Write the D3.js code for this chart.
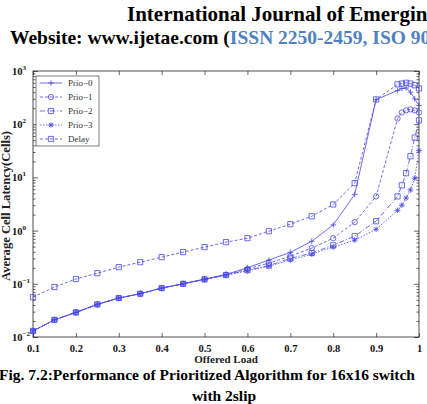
<!DOCTYPE html>
<html>
<head>
<meta charset="utf-8">
<script src="https://cdn.jsdelivr.net/npm/d3@7"></script>
<style>
  body { margin: 0; background: #fff; }
  text { font-family: "Liberation Serif", "Times New Roman", serif; }
</style>
</head>
<body>
<script>
// offered load vs average cell latency, log scale
let loads = [0.1, 0.15, 0.2, 0.25, 0.3, 0.35, 0.4, 0.45, 0.5, 0.55, 0.6, 0.65, 0.7, 0.75, 0.8, 0.85, 0.9, 0.95, 0.96, 0.97, 0.98, 0.99, 1.0]
let prio0 = [0.013, 0.021, 0.029, 0.041, 0.054, 0.065, 0.083, 0.10, 0.123, 0.15, 0.20, 0.28, 0.39, 0.63, 1.28, 4.8, 290, 430, 470, 480, 400, 300, 225]
let prio1 = [0.013, 0.021, 0.029, 0.041, 0.054, 0.065, 0.083, 0.10, 0.122, 0.148, 0.19, 0.245, 0.33, 0.47, 0.72, 1.44, 4.4, 128, 166, 182, 190, 182, 166]
let prio2 = [0.013, 0.021, 0.029, 0.041, 0.054, 0.065, 0.083, 0.10, 0.121, 0.146, 0.18, 0.22, 0.30, 0.38, 0.53, 0.79, 1.5, 4.4, 7.1, 12, 25, 56, 118]
let prio3 = [0.013, 0.021, 0.029, 0.041, 0.054, 0.065, 0.083, 0.10, 0.12, 0.145, 0.175, 0.215, 0.28, 0.36, 0.49, 0.66, 1.06, 2.4, 3.0, 4.1, 5.8, 9.6, 32]
let delay = [0.056, 0.087, 0.123, 0.158, 0.206, 0.255, 0.317, 0.394, 0.489, 0.606, 0.72, 0.975, 1.32, 1.86, 3.1, 7.8, 292, 560, 580, 600, 580, 540, 470]
let seriesNames = ['Prio−0', 'Prio−1', 'Prio−2', 'Prio−3', 'Delay']
let xTicks = [0.1, 0.2, 0.3, 0.4, 0.5, 0.6, 0.7, 0.8, 0.9, 1]
let yExps = [-2, -1, 0, 1, 2, 3]

let W = 427, H = 404
let pLeft = 33, pRight = 419, pTop = 71, pBottom = 337
let blue = '#4646e6'

let svg = d3.select('body').append('svg')
  .attr('width', W).attr('height', H)

// header (runs off the right edge like the scan)
let head = svg.append('g').attr('font-weight', 'bold')
head.append('text')
  .attr('x', 127).attr('y', 21)
  .attr('font-size', 21)
  .text('International Journal of Emerging')
let site = head.append('text')
  .attr('x', 10).attr('y', 44)
  .attr('font-size', 19.5)
site.append('tspan').text('Website: www.ijetae.com (')
site.append('tspan').attr('fill', '#4f81c4').text('ISSN 2250-2459, ISO 9001')

let x = d3.scaleLinear().domain([0.1, 1]).range([pLeft, pRight])
let y = d3.scaleLog().domain([0.01, 1000]).range([pBottom, pTop])

// frame
svg.append('rect')
  .attr('x', pLeft).attr('y', pTop)
  .attr('width', pRight - pLeft).attr('height', pBottom - pTop)
  .attr('fill', 'none').attr('stroke', '#222').attr('stroke-width', 0.8)

// x ticks bottom + top
let xAxisB = d3.axisBottom(x).tickValues(xTicks).tickSize(-4).tickPadding(8)
  .tickFormat(d => d === 1 ? '1' : d3.format('.1f')(d))
let gxb = svg.append('g').attr('transform', 'translate(0,' + pBottom + ')').call(xAxisB)
gxb.selectAll('text').attr('font-size', 10.5).attr('font-weight', 'bold').attr('fill', '#111')
  .attr('font-family', '"Liberation Serif", serif')
svg.append('g').attr('transform', 'translate(0,' + pTop + ')')
  .call(d3.axisTop(x).tickValues(xTicks).tickSize(-4).tickFormat(''))

// y ticks, major and minor, both sides
let minor = y.ticks().filter(v => Math.abs(Math.log10(v) - Math.round(Math.log10(v))) > 1e-6)
let major = yExps.map(e => Math.pow(10, e))
svg.append('g').attr('transform', 'translate(' + pLeft + ',0)')
  .call(d3.axisLeft(y).tickValues(minor).tickSize(-2.5).tickFormat(''))
svg.append('g').attr('transform', 'translate(' + pRight + ',0)')
  .call(d3.axisRight(y).tickValues(minor).tickSize(-2.5).tickFormat(''))
svg.append('g').attr('transform', 'translate(' + pRight + ',0)')
  .call(d3.axisRight(y).tickValues(major).tickSize(-5).tickFormat(''))
svg.append('g').attr('transform', 'translate(' + pLeft + ',0)')
  .call(d3.axisLeft(y).tickValues(major).tickSize(-5).tickFormat(''))
svg.selectAll('.domain').remove()
svg.selectAll('.tick line').attr('stroke', '#222').attr('stroke-width', 0.7)

// y tick labels as 10^e
yExps.forEach(function (e) {
  let t = svg.append('text')
    .attr('x', 12).attr('y', y(Math.pow(10, e)) + 4)
    .attr('font-size', 10.5).attr('font-weight', 'bold').attr('fill', '#111')
  t.append('tspan').text('10')
  t.append('tspan').attr('dy', -5).attr('font-size', 7).text(e < 0 ? '−' + (-e) : e)
})

// axis titles
svg.append('text')
  .attr('x', 226).attr('y', 363)
  .attr('text-anchor', 'middle')
  .attr('font-size', 11).attr('font-weight', 'bold').attr('fill', '#222')
  .text('Offered Load')
svg.append('text')
  .attr('transform', 'translate(10,' + 206 + ') rotate(-90)')
  .attr('text-anchor', 'middle')
  .attr('font-size', 12).attr('font-weight', 'bold').attr('fill', '#222')
  .attr('textLength', 150).attr('lengthAdjust', 'spacingAndGlyphs')
  .text('Average Cell Latency(Cells)')

// caption
svg.append('text')
  .attr('x', 207).attr('y', 380)
  .attr('text-anchor', 'middle')
  .attr('font-size', 15.5).attr('font-weight', 'bold')
  .text('Fig. 7.2:Performance of Prioritized Algorithm for 16x16 switch')
svg.append('text')
  .attr('x', 224).attr('y', 401)
  .attr('text-anchor', 'middle')
  .attr('font-size', 15.5).attr('font-weight', 'bold')
  .text('with 2slip')

// marker shapes
function markerPath(kind) {
  let s = 2.8
  if (kind === 'plus') return 'M' + -s + ',0H' + s + 'M0,' + -s + 'V' + s
  if (kind === 'star') return 'M' + -s + ',0H' + s + 'M0,' + -s + 'V' + s +
    'M-2,-2L2,2M-2,2L2,-2'
  if (kind === 'circle') return d3.symbol(d3.symbolCircle, 22)()
  return 'M-2.6,-2.6H2.6V2.6H-2.6Z'
}

let series = [
  { values: prio0, marker: 'plus', dash: null },
  { values: prio1, marker: 'circle', dash: '3,2' },
  { values: prio2, marker: 'square', dash: '5,2,1,2' },
  { values: prio3, marker: 'star', dash: '1.5,1.5' },
  { values: delay, marker: 'square', dash: '3,2' }
]

let line = d3.line().x(d => x(d[0])).y(d => y(d[1]))
let plot = svg.append('g')
series.forEach(function (s) {
  let pts = loads.map((l, i) => [l, s.values[i]])
  plot.append('path')
    .attr('d', line(pts))
    .attr('fill', 'none').attr('stroke', blue).attr('stroke-width', 0.8)
    .attr('stroke-dasharray', s.dash)
  plot.selectAll(null).data(pts).enter().append('path')
    .attr('transform', d => 'translate(' + x(d[0]) + ',' + y(d[1]) + ')')
    .attr('d', markerPath(s.marker))
    .attr('fill', 'none').attr('stroke', blue).attr('stroke-width', 0.8)
})

// legend
let lg = svg.append('g')
lg.append('rect')
  .attr('x', 36).attr('y', 76).attr('width', 63).attr('height', 70)
  .attr('fill', '#fff').attr('stroke', '#222').attr('stroke-width', 0.6)
series.forEach(function (s, i) {
  let ly = 83 + i * 14
  lg.append('line')
    .attr('x1', 40).attr('x2', 62).attr('y1', ly).attr('y2', ly)
    .attr('stroke', blue).attr('stroke-width', 0.8)
    .attr('stroke-dasharray', s.dash)
  lg.append('path')
    .attr('transform', 'translate(51,' + ly + ')')
    .attr('d', markerPath(s.marker))
    .attr('fill', 'none').attr('stroke', blue).attr('stroke-width', 0.8)
  lg.append('text')
    .attr('x', 68).attr('y', ly + 3)
    .attr('font-size', 9).attr('fill', '#333')
    .text(seriesNames[i])
})
</script>
</body>
</html>
